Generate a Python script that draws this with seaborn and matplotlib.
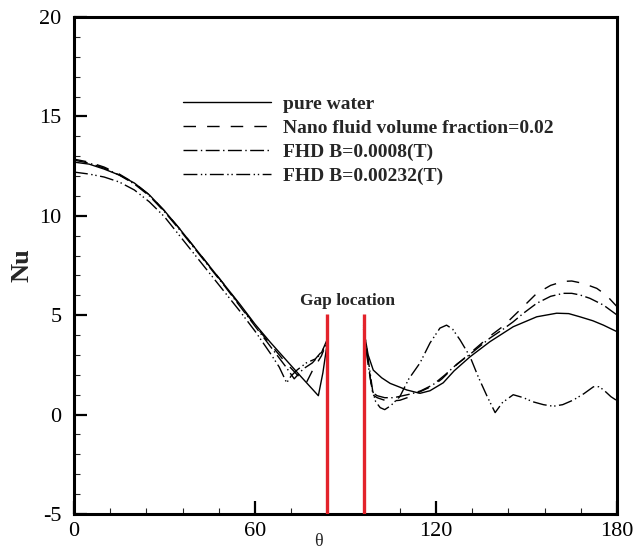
import matplotlib
matplotlib.use("Agg")
import matplotlib.pyplot as plt
import seaborn as sns
import pandas as pd
from matplotlib.ticker import MultipleLocator

# ---------------- data ----------------
series_labels = ["pure water", "Nano fluid volume fraction=0.02",
                 "FHD B=0.0008(T)", "FHD B=0.00232(T)"]

# pure water
pw_theta_l = [0, 5, 10, 15, 20, 25, 30, 35, 40, 45, 50, 55, 60, 65, 70, 75, 78, 81, 82.5, 84]
pw_nu_l    = [12.7, 12.6, 12.35, 12.05, 11.65, 11.05, 10.25, 9.35, 8.4, 7.45, 6.5, 5.55, 4.55, 3.65, 2.8, 1.95, 1.45, 0.95, 2.1, 3.65]
pw_theta_r = [96, 97.5, 99.2, 102, 104.8, 108, 110.3, 114.7, 118, 122.4, 126, 131.3, 137.9, 145.6, 153.4, 160, 164, 167.7, 172, 175.5, 180]
pw_nu_r    = [4.3, 3.0, 2.24, 1.85, 1.57, 1.38, 1.24, 1.07, 1.2, 1.6, 2.2, 2.91, 3.67, 4.42, 4.92, 5.1, 5.08, 4.92, 4.72, 4.5, 4.17]

# nano fluid
nf_theta_l = [0, 5, 10, 15, 20, 25, 30, 35, 40, 45, 50, 55, 60, 65, 70, 74, 77, 79, 82, 84]
nf_nu_l    = [12.85, 12.7, 12.45, 12.1, 11.65, 11.05, 10.25, 9.35, 8.4, 7.45, 6.5, 5.5, 4.5, 3.55, 2.65, 2.0, 1.6, 2.2, 2.95, 3.7]
nf_theta_r = [96, 97.5, 99, 100.5, 103, 105, 108, 111.4, 114.7, 119, 122, 126, 131, 137.9, 142.3, 147.8, 153.4, 158, 162.2, 165, 168.8, 173.3, 176.5, 180]
nf_nu_r    = [4.5, 2.6, 1.0, 0.85, 0.72, 0.68, 0.72, 0.9, 1.15, 1.45, 1.8, 2.4, 3.05, 3.95, 4.45, 5.26, 6.1, 6.5, 6.7, 6.72, 6.6, 6.35, 6.0, 5.43]

# FHD B=0.0008
f1_theta_l = [0, 5, 10, 15, 20, 25, 30, 35, 40, 45, 50, 55, 60, 65, 70, 73, 76, 79, 82, 84]
f1_nu_l    = [12.8, 12.65, 12.4, 12.05, 11.6, 11.0, 10.2, 9.3, 8.35, 7.4, 6.45, 5.45, 4.45, 3.45, 2.45, 1.8, 2.3, 2.6, 3.1, 3.8]
f1_theta_r = [96, 97.5, 99, 100.5, 103, 106, 109, 112, 115, 119, 123, 127, 131, 137.9, 142.3, 145.6, 149, 153.4, 158, 162.2, 165, 167.7, 171, 175.5, 180]
f1_nu_r    = [4.3, 2.5, 1.1, 0.95, 0.85, 0.85, 0.95, 1.05, 1.2, 1.5, 2.0, 2.55, 3.0, 3.85, 4.3, 4.67, 5.1, 5.6, 5.95, 6.1, 6.1, 6.02, 5.85, 5.51, 5.01]

# FHD B=0.00232
f2_theta_l = [0, 5, 10, 15, 20, 25, 30, 35, 40, 45, 50, 55, 60, 65, 68, 70.5, 72, 74, 77, 80, 82, 84]
f2_nu_l    = [12.2, 12.1, 11.95, 11.7, 11.3, 10.7, 9.95, 9.0, 8.05, 7.1, 6.15, 5.2, 4.2, 3.1, 2.4, 1.6, 1.95, 2.25, 2.6, 2.8, 3.15, 3.6]
f2_theta_r = [96, 97.5, 99, 100, 101.5, 103, 105, 108, 111, 114.7, 118, 121.3, 123.5, 125.5, 128, 131.3, 134, 137, 139.6, 142, 145.6, 149, 152, 155.6, 158.9, 162, 165.5, 169, 172.2, 174, 175.5, 178, 180]
f2_nu_r    = [4.4, 2.8, 1.2, 0.65, 0.35, 0.25, 0.45, 0.9, 1.8, 2.6, 3.6, 4.35, 4.5, 4.3, 3.75, 2.91, 1.9, 0.9, 0.1, 0.6, 1.0, 0.85, 0.65, 0.5, 0.42, 0.5, 0.73, 1.05, 1.4, 1.4, 1.25, 0.9, 0.7]

gap_theta = [84, 96]
gap_nu = [-5, 5.05]

x_ticks = [0, 60, 120, 180]
y_ticks = [-5, 0, 5, 10, 15, 20]

# ---------------- style ----------------
sns.set_theme(style="white")
plt.rcParams["font.family"] = ["Liberation Serif", "DejaVu Serif"]
plt.rcParams["axes.unicode_minus"] = False

fig = plt.figure(figsize=(6.4, 5.49), dpi=100)
ax = fig.add_axes([74 / 640, (549 - 514) / 549, (617 - 74) / 640, (514 - 17) / 549])

styles = [
    dict(linestyle="-"),
    dict(linestyle=(0, (9, 8))),
    dict(linestyle=(0, (10, 2.5, 1, 2.5))),
    dict(linestyle=(0, (10, 2.5, 1, 2, 1, 2.5))),
]

segments = [
    (pw_theta_l, pw_nu_l, pw_theta_r, pw_nu_r),
    (nf_theta_l, nf_nu_l, nf_theta_r, nf_nu_r),
    (f1_theta_l, f1_nu_l, f1_theta_r, f1_nu_r),
    (f2_theta_l, f2_nu_l, f2_theta_r, f2_nu_r),
]

for (tl, nl, tr, nr), lab, st in zip(segments, series_labels, styles):
    dl = pd.DataFrame({"theta": tl, "Nu": nl})
    dr = pd.DataFrame({"theta": tr, "Nu": nr})
    sns.lineplot(data=dl, x="theta", y="Nu", ax=ax, color="black", lw=1.0,
                 label=lab, **st)
    sns.lineplot(data=dr, x="theta", y="Nu", ax=ax, color="black", lw=1.0,
                 label="_nolegend_", **st)

# gap location lines
for g in gap_theta:
    ax.plot([g, g], gap_nu, color="#e3232b", lw=2.4, solid_capstyle="butt", zorder=5)
ax.text(sum(gap_theta) / 2 + 0.5, 5.3, "Gap location", ha="center", va="bottom",
        fontsize=12.5, fontweight="bold")

ax.set_xlim(0, 180)
ax.set_ylim(-5, 20)
ax.set_xticks(x_ticks)
ax.set_yticks(y_ticks)
ax.xaxis.set_minor_locator(MultipleLocator(12))
ax.yaxis.set_minor_locator(MultipleLocator(1))
ax.tick_params(which="major", direction="in", length=9.5, width=1.6,
               labelsize=16, colors="black")
ax.tick_params(axis="y", which="major", pad=9)
ax.tick_params(axis="x", which="major", pad=6)
ax.tick_params(which="minor", direction="in", length=4.5, width=0.8)
ax.tick_params(top=False, right=False, which="both")
ax.tick_params(bottom=True, left=True, which="both")
for s in ax.spines.values():
    s.set_linewidth(2.2)
    s.set_color("black")

ax.set_xlabel("θ", fontsize=13, va="bottom")
ax.xaxis.set_label_coords((318 - 74) / 543, -0.072)
ax.set_ylabel("Nu", fontsize=19, fontweight="bold", va="center")
ax.yaxis.set_label_coords((22 - 74) / 543, 0.5)

leg = ax.legend(loc="upper left", bbox_to_anchor=((183 - 74) / 543, (514 - 95) / 497),
                frameon=False, fontsize=14, handlelength=4.5, handletextpad=0.65,
                labelspacing=0.33, borderpad=0, borderaxespad=0)
for t in leg.get_texts():
    t.set_fontweight("bold")

fig.savefig("out.png", dpi=100)
